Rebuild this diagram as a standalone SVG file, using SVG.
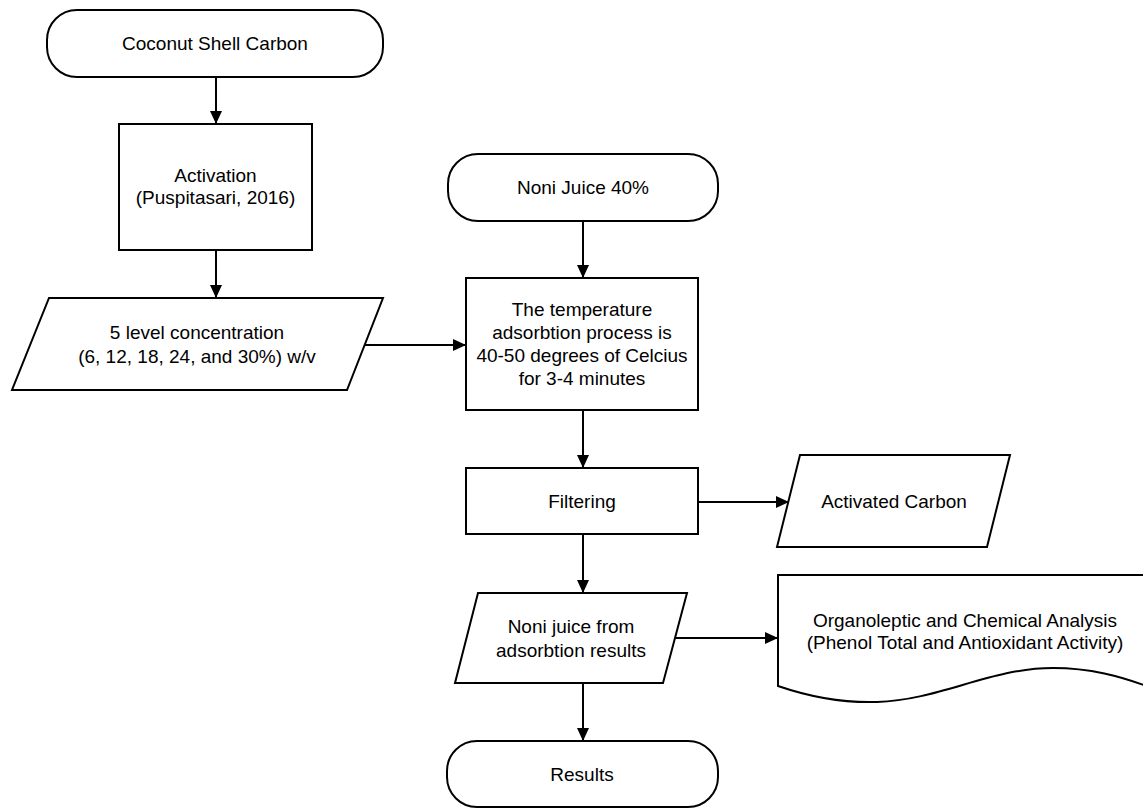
<svg xmlns="http://www.w3.org/2000/svg" width="1143" height="808" viewBox="0 0 1143 808">
<style>
.s{fill:#fff;stroke:#000;stroke-width:2}
.t{font-family:"Liberation Sans",Arial,sans-serif;font-size:19px;fill:#000;text-anchor:middle}
.c{fill:none;stroke:#000;stroke-width:2}
</style>
<defs>
<marker id="ah" markerUnits="userSpaceOnUse" markerWidth="13" markerHeight="12" refX="13" refY="6" orient="auto">
<path d="M0,0 L13,6 L0,12 z" fill="#000"/>
</marker>
</defs>
<rect width="1143" height="808" fill="#fff"/>
<g id="connectors">
<path class="c" d="M216,77 V124" marker-end="url(#ah)"/>
<path class="c" d="M216,250 V298" marker-end="url(#ah)"/>
<path class="c" d="M365,345 H466" marker-end="url(#ah)"/>
<path class="c" d="M583,221 V278" marker-end="url(#ah)"/>
<path class="c" d="M583,410 V468" marker-end="url(#ah)"/>
<path class="c" d="M698,502 H789" marker-end="url(#ah)"/>
<path class="c" d="M583,534 V593" marker-end="url(#ah)"/>
<path class="c" d="M675,638 H778" marker-end="url(#ah)"/>
<path class="c" d="M583,683 V741" marker-end="url(#ah)"/>
</g>
<g id="coconut">
<rect class="s" x="47" y="10" width="336" height="67" rx="30" ry="30"/>
<text class="t" x="215" y="50">Coconut Shell Carbon</text>
</g>
<g id="activation">
<rect class="s" x="119" y="124" width="193" height="126"/>
<text class="t" x="215.5" y="182">Activation</text>
<text class="t" x="215.5" y="204">(Puspitasari, 2016)</text>
</g>
<g id="concentration">
<path class="s" d="M49,298 H383 L347,390 H12 Z"/>
<text class="t" x="197" y="339">5 level concentration</text>
<text class="t" x="197" y="363">(6, 12, 18, 24, and 30%) w/v</text>
</g>
<g id="noni40">
<rect class="s" x="448" y="154" width="270" height="67" rx="30" ry="30"/>
<text class="t" x="583" y="194">Noni Juice 40%</text>
</g>
<g id="temperature">
<rect class="s" x="466" y="278" width="232" height="132"/>
<text class="t" x="582" y="316">The temperature</text>
<text class="t" x="582" y="339">adsorbtion process is</text>
<text class="t" x="582" y="362">40-50 degrees of Celcius</text>
<text class="t" x="582" y="385">for 3-4 minutes</text>
</g>
<g id="filtering">
<rect class="s" x="466" y="468" width="232" height="66"/>
<text class="t" x="582" y="508">Filtering</text>
</g>
<g id="activated">
<path class="s" d="M800,455 H1010 L987,547 H777 Z"/>
<text class="t" x="894" y="508">Activated Carbon</text>
</g>
<g id="nonijuice">
<path class="s" d="M478,593 H687 L663,683 H455 Z"/>
<text class="t" x="571" y="633">Noni juice from</text>
<text class="t" x="571" y="657">adsorbtion results</text>
</g>
<g id="analysis">
<path class="s" d="M778,686 V575 H1152 V688 C1120,676 1090,668 1053,668 C990,668 940,700 877,702 C845,703 810,697 778,686 Z"/>
<text class="t" x="965" y="627">Organoleptic and Chemical Analysis</text>
<text class="t" x="965" y="649">(Phenol Total and Antioxidant Activity)</text>
</g>
<g id="results">
<rect class="s" x="447" y="741" width="271" height="66" rx="30" ry="30"/>
<text class="t" x="582" y="781">Results</text>
</g>
</svg>
